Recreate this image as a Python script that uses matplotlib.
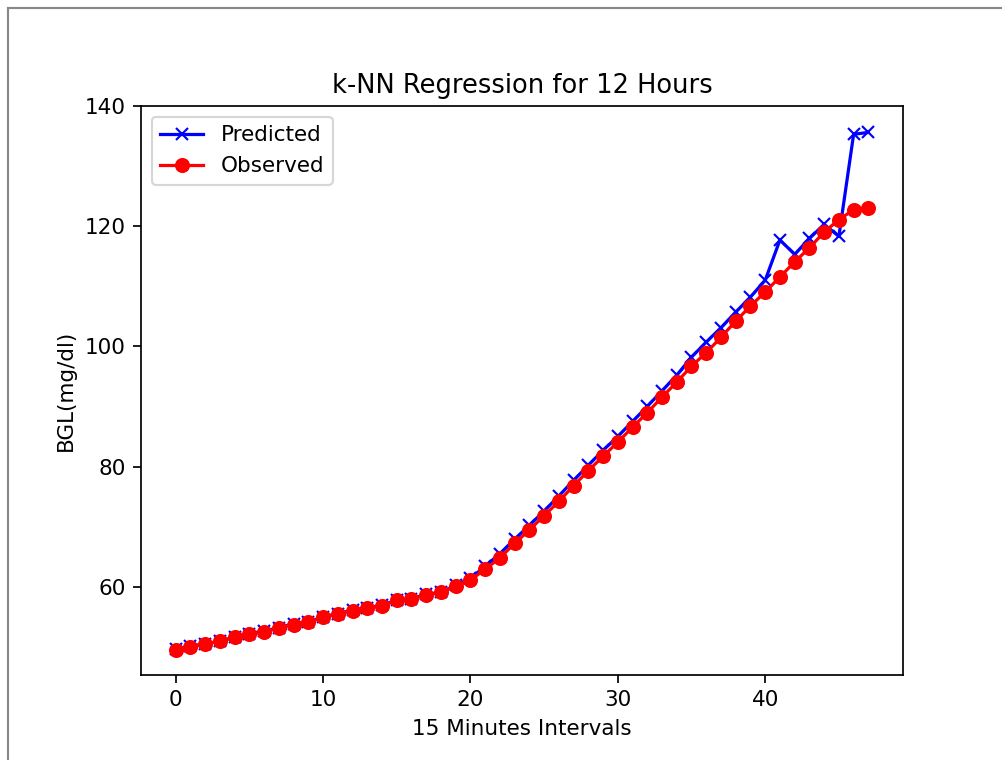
import matplotlib
matplotlib.use("Agg")
import matplotlib.pyplot as plt
from matplotlib.lines import Line2D

intervals = list(range(48))
predicted = [49.6, 50.1, 50.5, 50.9, 51.6, 52.2, 52.6, 53.2, 53.8, 54.1,
             55.0, 55.5, 56.1, 56.5, 56.9, 57.8, 58.0, 58.7, 59.1, 60.2,
             61.4, 63.4, 65.5, 67.9, 70.2, 72.6, 75.1, 77.7,
             80.2, 82.7, 85.0, 87.5, 90.0, 92.6, 95.2,
             98.2, 100.7, 103.1, 105.7, 108.2, 111.0, 117.7, 115.3, 117.95,
             120.3, 118.3, 135.3, 135.6]
observed = [49.5, 50.0, 50.4, 51.0, 51.55, 52.1, 52.5, 53.1, 53.7, 54.05,
            54.9, 55.45, 56.0, 56.45, 56.8, 57.7, 57.95, 58.6, 59.05, 60.1,
            61.1, 62.9, 64.8, 67.2, 69.45, 71.8, 74.2, 76.8,
            79.3, 81.7, 84.05, 86.55, 88.95, 91.55, 94.05,
            96.7, 98.95, 101.5, 104.2, 106.7, 109.05, 111.55, 114.05, 116.4,
            119.0, 121.1, 122.7, 123.1]

DPI = 154.7
fig = plt.figure(figsize=(1003 / DPI, 760 / DPI), dpi=DPI)
ax = fig.add_axes([141 / 1003, 1 - 675 / 760, 762 / 1003, 569 / 760])

ax.plot(intervals, predicted, color="blue", marker="x", label="Predicted")
ax.plot(intervals, observed, color="red", marker="o", label="Observed")
ax.set_ylim(45.3, 140.0)
ax.set_title("k-NN Regression for 12 Hours")
ax.set_xlabel("15 Minutes Intervals")
ax.set_ylabel("BGL(mg/dl)")
ax.legend(loc="upper left")

# screenshot frame (left and top border)
fig.add_artist(Line2D([8 / 1003, 8 / 1003], [0, 1 - 8 / 760], transform=fig.transFigure,
                      color="#888888", linewidth=1.0))
fig.add_artist(Line2D([8 / 1003, 1], [1 - 8 / 760, 1 - 8 / 760], transform=fig.transFigure,
                      color="#888888", linewidth=1.0))

fig.savefig("out.png", dpi=DPI)
